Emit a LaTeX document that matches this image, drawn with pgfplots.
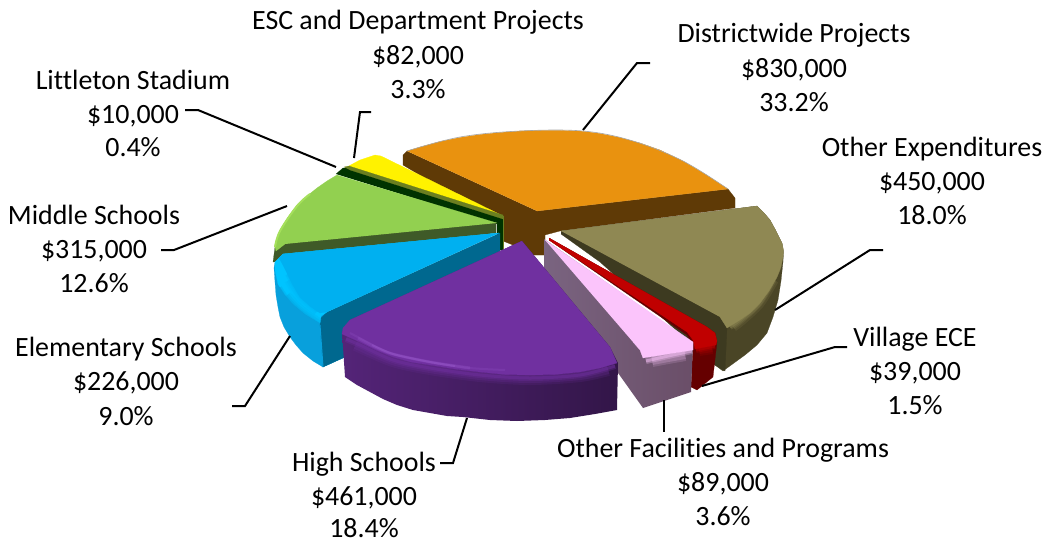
\documentclass[border=0pt]{standalone}
\usepackage{pgfplots}
\pgfplotsset{compat=1.18}
\usepackage{fontspec}
\setmainfont[Ligatures=NoCommon]{Carlito}
\definecolor{orangeT}{HTML}{E9920F}
\definecolor{orangeS}{HTML}{5F3A06}
\definecolor{tanT}{HTML}{8F8853}
\definecolor{tanS}{HTML}{4A4526}
\definecolor{tanW}{HTML}{3D3A20}
\definecolor{redT}{HTML}{C00000}
\definecolor{redS}{HTML}{650000}
\definecolor{pinkT}{HTML}{FBC4FB}
\definecolor{pinkL}{HTML}{7A6480}
\definecolor{pinkR}{HTML}{6A4E68}
\definecolor{purpT}{HTML}{7030A0}
\definecolor{purpH}{HTML}{9C5CD0}
\definecolor{blueT}{HTML}{00B0F0}
\definecolor{blueS}{HTML}{08A0DC}
\definecolor{blueW}{HTML}{00688F}
\definecolor{blueH}{HTML}{00C4FF}
\definecolor{greenT}{HTML}{92D050}
\definecolor{greenS}{HTML}{3F5A28}
\definecolor{greenL}{HTML}{A5E05C}
\definecolor{dkgreen}{HTML}{003300}
\definecolor{olive}{HTML}{6B7F20}
\newcommand\poly[2]{\addplot[fill=#1,draw=#1,line width=0.2bp] coordinates {#2};}
\newcommand\rim[3]{%
 \addplot[smooth,draw=#1,line width=14bp,opacity=.16] coordinates {#2};
 \addplot[smooth,draw=#1,line width=10bp,opacity=.22] coordinates {#2};
 \addplot[smooth,draw=#1,line width=6bp,opacity=.3] coordinates {#3};
 \addplot[smooth,draw=#1,line width=3bp,opacity=.45] coordinates {#3};}
\newcommand\lead[1]{\addplot[draw=black,line width=2bp,line join=miter] coordinates {#1};}
\newcommand\lab[3]{\node[anchor=base,inner sep=0pt,font=\fontsize{28}{30}\selectfont] at (axis cs:#1,#2) {#3};}
\begin{document}
\begin{tikzpicture}
\useasboundingbox (0,0) rectangle (1047bp,542bp);
\begin{axis}[at={(0,0)},anchor=south west,x=1bp,y=1bp,scale only axis,
 xmin=0,xmax=1047,ymin=0,ymax=542,y dir=reverse,hide axis,clip=false,enlargelimits=false]
% Districtwide Projects
\poly{orangeS}{(407,151)(403,155)(403,165)(503,225)(503,241)(513,245)(533,255)(545,255)(545,235)(560,231)(735,208)(735,198)(728,189)(537,211)}
\poly{orangeT}{(407,151)(420,147)(440,141.5)(460,137.5)(480,134.5)(500,132.5)(520,131)(540,130.3)(560,130.3)(583,131.3)(600,133.5)(620,137.5)(640,143)(660,150)(683,161)(705,174)(728,189)(537,211)}
\addplot[smooth,tension=.6,draw=gray!70,line width=0.6bp] coordinates {(407,151)(460,137)(520,131)(583,131)(633,141)(683,161)(728,189)};
% ESC
\poly{yellow}{(345,168)(360,160)(375,155)(381,156)(501,215)(501,220)}
% Littleton
\poly{dkgreen}{(336,174)(343,168)(349,168)(503,217)(503,250)(497,250)(497,224)}
\poly{olive}{(344,167)(349,166)(503,215)(503,219)(350,170)}
\addplot[draw=olive,line width=1bp] coordinates {(503,216)(503,250)};
% Middle Schools
\poly{greenS}{(275,247)(273,262)(496,233)(496,222)(285,243)}
\poly{greenT}{(497,223)(337,175)(327,181)(317,188)(307,196)(297,205)(288,217)(280,230)(277,238)(275,247)(276,251)(285,244)}
\addplot[smooth,tension=.6,draw=greenL,line width=2bp] coordinates {(275,247)(280,231)(297,206)(310,194)};
% Elementary Schools
\poly{blueS}{(283,254)(275,262)(274,268)(275,282)(276,295)(278,307)(280,317)(284,327)(290,337)(296,345)(303,353)(313,361)(323,367)(345,357)(345,330)(330,312)}
\poly{blueW}{(500,233)(327,312)(321,318)(320,325)(323,367)(345,357)(500,251)}
\addplot[draw=blueS,line width=1bp] coordinates {(320,325)(323,367)};
\poly{blueH}{(499,233)(283,254)(275,262)(275,270)(278,284)(285,295)(293,304)(305,314)(320,323)(321,316)(327,312)}
\rim{blueS}{(285,297)(294,307)(305,316)(318,325)}{(279,288)(285,297)(294,307)(305,316)(318,325)}
\poly{blueT}{(499,233)(283,254)(279,258)(283,265)(287,273)(293,285)(300,297)(310,306)(320,313)(327,312)}
\rim{blueT}{(291,279)(302,296)(318,310)}{(288,274)(291,279)(302,296)(318,310)}
% Other Expenditures
\poly{tanS}{(561,231)(757,206)(764,213)(770,220)(776,231)(782,243)(783.5,252)(783,262)(781,281)(778,300)(773,317)(767,333)(757,345)(745,355)(734,363)(723,371)(715,365)(600,255)}
\poly{tanW}{(561,231)(720,317)(727,328)(725,371)(715,365)(600,262)(561,234)}
\poly{tanT}{(561,231)(757,206)(764,213)(770,220)(776,231)(782,243)(783.5,250)(783,257)(781,267)(777,277)(769,291)(760,303)(750,313)(740,320)(727,328)(720,317)}
\rim{tanT}{(772,279)(758,302)(740,319)(732,325)}{(778,268)(772,281)(758,304)(740,320)(730,327)}
% Village ECE
\poly{redS}{(549,238)(707,327)(715,333)(717,342)(713,377)(697,390)(691,387)(693,345)(687,335)(549,240)}
\poly{redT}{(549,238)(707,327)(715,333)(717,341)(716,345)(695,349)(693,340)(687,332)(549,240)}
\rim{redT}{(699,349)(712,347)}{(696,350)(705,348)(715,346)}
% Other Facilities and Programs
\addplot[left color=pinkL,right color=pinkR,draw=none] coordinates {(544,239)(544,269)(643,408)(691,392)(693,343)};
\poly{pinkT}{(545,240)(693,342)(693,350)(668,354)(643,358)(640,350)(633,342)}
\rim{pinkT}{(652,360)(668,357)(685,354)}{(646,361)(668,356)(692,351)}
% High Schools
\addplot[left color=purpT!75!black,right color=purpT!45!black,draw=none] coordinates {(342,332)(345,377)(357,385)(370,392)(383,399)(397,405)(413,410)(430,413)(447,416)(463,417)(490,420)(517,421)(545,420)(570,418)(595,414)(617,410)(618,363)(610,347)(522,241)(350,320)};
\poly{purpT}{(522,241)(350,320)(343,328)(342,334)(351,338)(360,342)(376,350)(393,357)(411,362)(430,365)(455,369)(480,372)(505,374.5)(530,375)(555,374.5)(580,372)(600,368)(617,363)(610,347)}
\rim{purpT}{(356,344)(393,360)(430,368)(480,375)(530,378)(580,375)(608,369)}{(346,339)(360,345)(393,360)(430,368)(480,375)(530,378)(580,375)(615,366)}
\addplot[smooth,draw=purpH,line width=2bp,opacity=.2] coordinates {(350,333)(375,346)(393,354)(430,362)(470,368)(505,370)};
\addplot[smooth,draw=purpH,line width=3bp,opacity=.25] coordinates {(358,338)(375,347)(393,354)(430,362)(470,368)};
\addplot[smooth,draw=purpH,line width=2bp,opacity=.35] coordinates {(372,345)(393,354)(430,362)(455,366)};
% leader lines
\lead{(583,130)(637,63)(650,63)}
\lead{(354,158)(360,112)(371,112)}
\lead{(336,167)(198,110)(185,110)}
\lead{(287,206)(174,250)(161,250)}
\lead{(290,336)(245,406)(232,406)}
\lead{(467,418)(453,463)(440,463)}
\lead{(664,400)(664,432)}
\lead{(702,386)(835,347)(847,347)}
\lead{(775,310)(870,250)(883,250)}
% labels
\lab{418}{29}{ESC and Department Projects}\lab{418}{64}{\$82,000}\lab{418}{98}{3.3\%}
\lab{794}{42}{Districtwide Projects}\lab{794}{77}{\$830,000}\lab{794}{111}{33.2\%}
\lab{133}{89}{Littleton Stadium}\lab{133}{123}{\$10,000}\lab{133}{156}{0.4\%}
\lab{932}{156}{Other Expenditures}\lab{932}{190}{\$450,000}\lab{932}{224}{18.0\%}
\lab{94}{224}{Middle Schools}\lab{94}{258}{\$315,000}\lab{94}{292}{12.6\%}
\lab{915}{346}{Village ECE}\lab{915}{380}{\$39,000}\lab{915}{414}{1.5\%}
\lab{126}{356}{Elementary Schools}\lab{126}{390}{\$226,000}\lab{126}{425}{9.0\%}
\lab{364}{471}{High Schools}\lab{364}{505}{\$461,000}\lab{364}{537}{18.4\%}
\lab{723}{457}{Other Facilities and Programs}\lab{723}{491}{\$89,000}\lab{723}{525}{3.6\%}
\end{axis}
\end{tikzpicture}
\end{document}
